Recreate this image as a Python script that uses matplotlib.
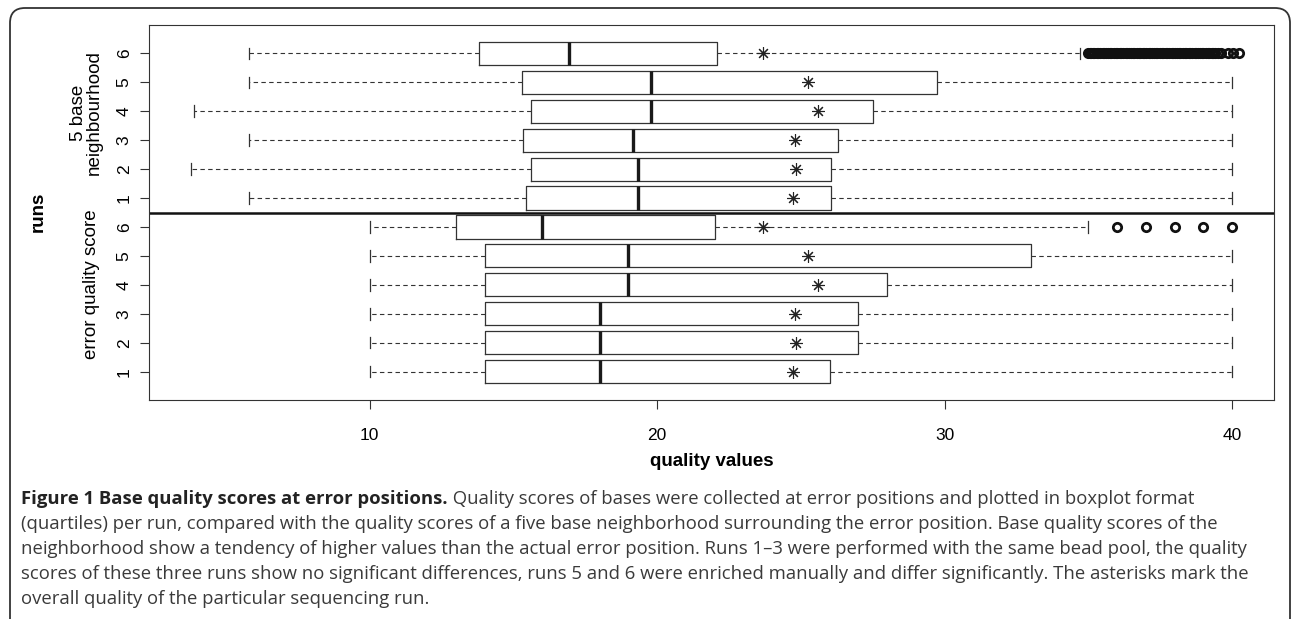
import matplotlib
matplotlib.use('Agg')
import matplotlib.pyplot as plt
from matplotlib.patches import FancyBboxPatch

# runs 1..6, values
runs = [1, 2, 3, 4, 5, 6]
run_mean = [24.72, 24.82, 24.81, 25.59, 25.26, 23.70]   # asterisks

# error quality score (lower group)
err_lo = [10, 10, 10, 10, 10, 10]
err_q1 = [14, 14, 14, 14, 14, 13]
err_med = [18, 18, 18, 19, 19, 16]
err_q3 = [26, 27, 27, 28, 33, 22]
err_hi = [40, 40, 40, 40, 40, 35]
err_fliers_run6 = [36, 37, 38, 39, 40]

# 5 base neighbourhood (upper group)
nb_lo = [5.8, 3.8, 5.8, 3.9, 5.8, 5.8]
nb_q1 = [15.45, 15.6, 15.35, 15.6, 15.3, 13.8]
nb_med = [19.35, 19.35, 19.15, 19.8, 19.8, 16.95]
nb_q3 = [26.05, 26.05, 26.3, 27.5, 29.75, 22.1]
nb_hi = [40, 40, 40, 40, 40, 34.7]
nb_fliers_run6 = [35.0, 35.05, 35.1, 35.15, 35.2, 35.3, 35.35, 35.4, 35.5, 35.55,
                  35.6, 35.7, 35.75, 35.8, 35.9, 35.95, 36.0, 36.1, 36.15, 36.2,
                  36.3, 36.35, 36.4, 36.5, 36.55, 36.6, 36.7, 36.75, 36.8, 36.9,
                  36.95, 37.0, 37.1, 37.15, 37.2, 37.3, 37.35, 37.4, 37.5, 37.55,
                  37.6, 37.7, 37.75, 37.8, 37.9, 37.95, 38.0, 38.1, 38.15, 38.2,
                  38.3, 38.35, 38.4, 38.5, 38.55, 38.6, 38.7, 38.75, 38.8, 38.9,
                  38.95, 39.0, 39.1, 39.15, 39.2, 39.3, 39.35, 39.4, 39.5, 39.6,
                  39.85, 40.05, 40.25]

x_ticks = [10, 20, 30, 40]

caption_bold = 'Figure 1 Base quality scores at error positions.'
caption_lines = [
    ' Quality scores of bases were collected at error positions and plotted in boxplot format',
    '(quartiles) per run, compared with the quality scores of a five base neighborhood surrounding the error position. Base quality scores of the',
    'neighborhood show a tendency of higher values than the actual error position. Runs 1\u20133 were performed with the same bead pool, the quality',
    'scores of these three runs show no significant differences, runs 5 and 6 were enriched manually and differ significantly. The asterisks mark the',
    'overall quality of the particular sequencing run.',
]

plt.rcParams['font.family'] = ['Liberation Sans', 'DejaVu Sans']
fs = 13.5

W, H = 1292, 619
fig = plt.figure(figsize=(W / 100, H / 100), dpi=100)
ax = fig.add_axes([149 / W, 1 - 400 / H, (1274 - 149) / W, (400 - 25) / H])

stats = []
positions = []
for i in range(6):
    stats.append(dict(whislo=err_lo[i], q1=err_q1[i], med=err_med[i], q3=err_q3[i],
                      whishi=err_hi[i], mean=run_mean[i],
                      fliers=err_fliers_run6 if runs[i] == 6 else []))
    positions.append(i + 1)
for i in range(6):
    stats.append(dict(whislo=nb_lo[i], q1=nb_q1[i], med=nb_med[i], q3=nb_q3[i],
                      whishi=nb_hi[i], mean=run_mean[i],
                      fliers=nb_fliers_run6 if runs[i] == 6 else []))
    positions.append(i + 7)

ax.bxp(stats, positions=positions, widths=0.8, orientation='horizontal',
       showmeans=True, capwidths=0.4,
       boxprops=dict(color='#333333', linewidth=0.9),
       medianprops=dict(color='#1a1a1a', linewidth=2.4),
       whiskerprops=dict(color='#333333', linewidth=0.8, linestyle=(0, (4, 3))),
       capprops=dict(color='#333333', linewidth=0.9),
       flierprops=dict(marker='o', markerfacecolor='none', markeredgecolor='#111111',
                       markersize=6, markeredgewidth=2.0),
       meanprops=dict(marker=(8, 2, 0), markeredgecolor='#222222', markerfacecolor='#222222',
                      markersize=9, markeredgewidth=0.8))

# line between the two groups
ax.axhline(6.5, color='#111111', linewidth=1.8)

ax.set_xlim(2.33, 41.46)
ax.set_ylim(0.02, 12.98)
ax.set_xticks(x_ticks)
ax.set_xticklabels([str(v) for v in x_ticks], fontsize=fs - 1)
ax.set_yticks(positions)
ax.set_yticklabels([str(r) for r in runs] * 2, rotation=90, va='center', fontsize=fs - 1)
ax.tick_params(axis='both', length=6.5, width=0.8, color='#333333')
ax.tick_params(axis='x', pad=14)
ax.tick_params(axis='y', pad=6)
for s in ax.spines.values():
    s.set_linewidth(0.8)
    s.set_color('#333333')

ax.set_xlabel('quality values', fontsize=fs, fontweight='bold', labelpad=7)
fig.text(38 / W, 1 - 212 / H, 'runs', rotation=90, fontsize=fs, fontweight='bold',
         ha='center', va='center')
fig.text(86 / W, 1 - 113 / H, '5 base\nneighbourhood', rotation=90, fontsize=fs,
         ha='center', va='center', linespacing=0.9)
fig.text(92 / W, 1 - 284 / H, 'error quality score', rotation=90, fontsize=fs,
         ha='center', va='center')

# caption
cap_font = ['Open Sans', 'DejaVu Sans']
cap_fs = 13.3
y_base = [504, 529, 554, 579, 604]
t1 = fig.text(21 / W, 1 - y_base[0] / H, caption_bold, fontsize=cap_fs, fontweight='bold',
              family=cap_font, color='#222222', va='baseline')
fig.canvas.draw()
bb = t1.get_window_extent()
fig.text(bb.x1 / W, 1 - y_base[0] / H, caption_lines[0], fontsize=cap_fs, family=cap_font,
         color='#3a3a3a', va='baseline')
for k in range(1, 5):
    fig.text(21 / W, 1 - y_base[k] / H, caption_lines[k], fontsize=cap_fs, family=cap_font,
             color='#3a3a3a', va='baseline')

# rounded frame round the figure, open at the bottom
frame = FancyBboxPatch((0.10, -0.3), 12.80, 6.11 + 0.3,
                       boxstyle='round,pad=0,rounding_size=0.15',
                       transform=fig.dpi_scale_trans, fill=False,
                       linewidth=1.3, edgecolor='#333333', clip_on=False)
fig.add_artist(frame)

fig.savefig('out.png', dpi=100)
